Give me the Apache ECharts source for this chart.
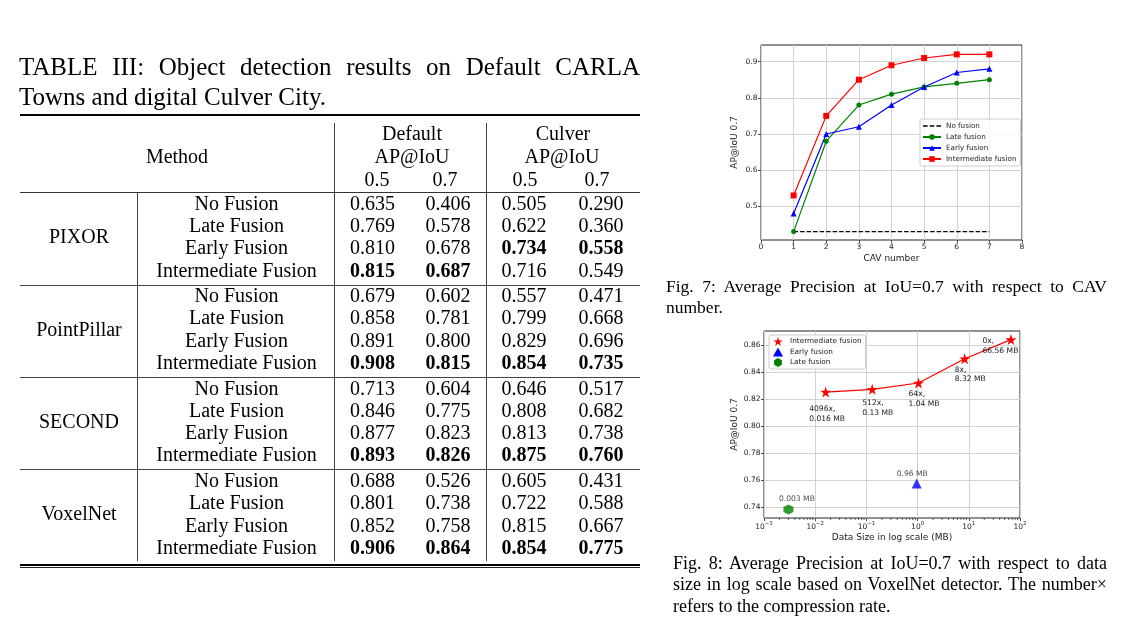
<!DOCTYPE html>
<html><head><meta charset="utf-8">
<script src="https://cdn.jsdelivr.net/npm/echarts@6/dist/echarts.min.js"></script>
<style>
html,body{margin:0;padding:0;background:#fff;width:1147px;height:641px;overflow:hidden;}
#chart{position:absolute;left:0;top:0;width:1147px;height:641px;}
.t{position:absolute;font-family:"Liberation Serif","Times New Roman",serif;color:#000;white-space:nowrap;line-height:1;transform:translate(-50%,-50%);}
.r{position:absolute;}
.cap{position:absolute;font-family:"Liberation Serif","Times New Roman",serif;color:#000;text-align:justify;}
.just{text-align:justify;text-align-last:justify;white-space:nowrap;}
</style></head><body>
<div id="chart"></div>
<div id="table"></div>
<div class="cap" id="cap7"></div>
<div class="cap" id="cap8"></div>
<script>
// ---------------- DATA ----------------
const tableCaption = ['TABLE III: Object detection results on Default CARLA', 'Towns and digital Culver City.'];
const headerMethod = 'Method';
const headerDatasets = ['Default', 'Culver'];
const headerMetric = 'AP@IoU';
const headerIoU = ['0.5', '0.7', '0.5', '0.7'];
const detectors = ['PIXOR', 'PointPillar', 'SECOND', 'VoxelNet'];
const fusionTypes = ['No Fusion', 'Late Fusion', 'Early Fusion', 'Intermediate Fusion'];
const defaultAP05 = [0.635,0.769,0.810,0.815, 0.679,0.858,0.891,0.908, 0.713,0.846,0.877,0.893, 0.688,0.801,0.852,0.906];
const defaultAP07 = [0.406,0.578,0.678,0.687, 0.602,0.781,0.800,0.815, 0.604,0.775,0.823,0.826, 0.526,0.738,0.758,0.864];
const culverAP05  = [0.505,0.622,0.734,0.716, 0.557,0.799,0.829,0.854, 0.646,0.808,0.813,0.875, 0.605,0.722,0.815,0.854];
const culverAP07  = [0.290,0.360,0.558,0.549, 0.471,0.668,0.696,0.735, 0.517,0.682,0.738,0.760, 0.431,0.588,0.667,0.775];

const fig7Caption = 'Fig. 7: Average Precision at IoU=0.7 with respect to CAV number.';
const fig8Caption = 'Fig. 8: Average Precision at IoU=0.7 with respect to data size in log scale based on VoxelNet detector. The number\u00d7 refers to the compression rate.';

// Fig 7
const cavNumbers     = [1, 2, 3, 4, 5, 6, 7];
const noFusionAP     = [0.43, 0.43, 0.43, 0.43, 0.43, 0.43, 0.43];
const lateFusionAP   = [0.43, 0.68, 0.78, 0.81, 0.83, 0.84, 0.85];
const earlyFusionAP  = [0.48, 0.70, 0.72, 0.78, 0.83, 0.87, 0.88];
const interFusionAP  = [0.53, 0.75, 0.85, 0.89, 0.91, 0.92, 0.92];
const fig7YTicks     = [0.5, 0.6, 0.7, 0.8, 0.9];
const fig7SeriesNames = ['No fusion', 'Late fusion', 'Early fusion', 'Intermediate fusion'];

// Fig 8
const interDataSize = [0.016, 0.13, 1.04, 8.32, 66.56];
const interAP       = [0.8253, 0.8273, 0.832, 0.850, 0.8642];
const interLabels   = ['4096x,\n0.016 MB', '512x,\n0.13 MB', '64x,\n1.04 MB', '8x,\n8.32 MB', '0x,\n66.56 MB'];
const earlyDataSize = [0.96];
const earlyAP       = [0.7574];
const earlyLabels   = ['0.96 MB'];
const lateDataSize  = [0.003];
const lateAP        = [0.7381];
const lateLabels    = ['0.003 MB'];
const fig8YTicks    = [0.74, 0.76, 0.78, 0.80, 0.82, 0.84, 0.86];
const fig8SeriesNames = ['Intermediate fusion', 'Early fusion', 'Late fusion'];

// ---------------- TABLE (HTML text) ----------------
const T = document.getElementById('table');
function txt(s, x, y, size, bold) {
  const d = document.createElement('div');
  d.className = 't';
  d.style.left = x + 'px'; d.style.top = y + 'px'; d.style.fontSize = size + 'px';
  if (bold) d.style.fontWeight = 'bold';
  d.textContent = s; T.appendChild(d);
}
function rect(x, y, w, h, color) {
  const d = document.createElement('div');
  d.className = 'r';
  d.style.left = x + 'px'; d.style.top = y + 'px'; d.style.width = w + 'px'; d.style.height = h + 'px';
  d.style.background = color; T.appendChild(d);
}
// caption
(function () {
  const c = document.createElement('div');
  c.className = 'cap';
  c.style.left = '19px'; c.style.top = '51.6px'; c.style.width = '621px';
  c.style.fontSize = '25px'; c.style.lineHeight = '30px';
  const l1 = document.createElement('div'); l1.className = 'just'; l1.textContent = tableCaption[0];
  const l2 = document.createElement('div'); l2.textContent = tableCaption[1];
  c.appendChild(l1); c.appendChild(l2); T.appendChild(c);
})();
const FS = 20;
const rowY = i => 202.7 + i * 22.3 + Math.floor(i / 4) * 3.2;
const numX = [372.5, 448, 524, 601];
const subX = [377, 445, 525, 597];
const groupX = 79, fusionX = 236.5;
// rules
rect(20, 114, 620, 2, '#000');
rect(20, 192.2, 620, 1, '#333');
for (let g = 1; g < 4; g++) rect(20, rowY(4 * g) - 10.5, 620, 1, '#444');
rect(20, 563.6, 620, 2, '#000');
rect(20, 567, 620, 1.4, '#222');
rect(137.2, 192.5, 1, 368, '#444');
rect(333.5, 123, 1, 437.5, '#444');
rect(486.2, 123, 1, 437.5, '#444');
// header
txt(headerMethod, 177, 156, FS);
txt(headerDatasets[0], 412, 133, FS); txt(headerMetric, 412, 156, FS);
txt(headerDatasets[1], 563, 133, FS); txt(headerMetric, 562, 156, FS);
headerIoU.forEach((s, k) => txt(s, subX[k], 178.5, FS));
// body
const cols = [defaultAP05, defaultAP07, culverAP05, culverAP07];
detectors.forEach((det, g) => {
  txt(det, groupX, (rowY(4 * g) + rowY(4 * g + 3)) / 2, FS);
  fusionTypes.forEach((f, j) => {
    const i = 4 * g + j;
    txt(f, fusionX, rowY(i), FS);
    cols.forEach((col, k) => {
      const grp = col.slice(4 * g, 4 * g + 4);
      const best = Math.max.apply(null, grp);
      txt(col[i].toFixed(3), numX[k], rowY(i), FS, col[i] === best);
    });
  });
});
// figure captions
(function () {
  const c7 = document.getElementById('cap7');
  c7.style.left = '666px'; c7.style.top = '276px'; c7.style.width = '441px';
  c7.style.fontSize = '17.5px'; c7.style.lineHeight = '21px';
  c7.textContent = fig7Caption;
  const c8 = document.getElementById('cap8');
  c8.style.left = '673px'; c8.style.top = '552.5px'; c8.style.width = '434px';
  c8.style.fontSize = '18px'; c8.style.lineHeight = '21.5px';
  c8.textContent = fig8Caption;
})();

// ---------------- CHARTS ----------------
const FONT = 'DejaVu Sans';
const AXC = '#222';
const GRIDC = '#d2d2d2';
const STAR = 'path://M50,0L61.2,34.6L97.6,34.5L68.1,55.9L79.4,90.5L50,69L20.6,90.5L31.9,55.9L2.4,34.5L38.8,34.6Z';
const HEX = 'path://M50,0L93.3,25L93.3,75L50,100L6.7,75L6.7,25Z';
const DASH = 'path://M0,0h4.6v1.4h-4.6z M6.6,0h4.6v1.4h-4.6z M13.2,0h4.6v1.4h-4.6z';
const fig7YMin = 0.4068, fig7YMax = 0.946;
const fig8YMin = 0.7318, fig8YMax = 0.8706;

const chart = echarts.init(document.getElementById('chart'), null, { renderer: 'canvas' });

const tick = { show: true, inside: false, length: 3, lineStyle: { color: AXC, width: 0.8 } };
const lbl = { color: AXC, fontSize: 7.5, fontFamily: FONT };
const split = { show: true, lineStyle: { color: GRIDC, width: 1 } };
const nameStyle = { color: AXC, fontSize: 9, fontFamily: FONT };

const interLabelOffsets = [[-16.5, 12.5], [-10, 9], [-10, 6.5], [-10, 6], [-28.5, -3]];
const earlyLabelOffset = [-20, -14.5];
const lateLabelOffset = [-9.5, -15];
const ptLabel = { show: true, position: 'inside', align: 'left', verticalAlign: 'top', color: AXC, fontSize: 7.6, fontFamily: FONT, lineHeight: 9.7 };

const supRich = {
  b: { fontSize: 7.5, fontFamily: FONT, color: AXC, lineHeight: 10, verticalAlign: 'bottom' },
  s: { fontSize: 5.4, fontFamily: FONT, color: AXC, lineHeight: 6, verticalAlign: 'top' }
};

const option = {
  backgroundColor: 'transparent',
  animation: false,
  grid: [
    { left: 761, top: 45, width: 261, height: 195, show: true, borderColor: AXC, borderWidth: 1, containLabel: false, outerBoundsMode: 'none' },
    { left: 764, top: 331, width: 256, height: 187, show: true, borderColor: AXC, borderWidth: 1, containLabel: false, outerBoundsMode: 'none' }
  ],
  xAxis: [
    { gridIndex: 0, type: 'value', min: 0, max: 8, interval: 1, axisLine: { show: false },
      axisTick: tick, axisLabel: Object.assign({ margin: 3.5 }, lbl), splitLine: split,
      name: 'CAV number', nameLocation: 'middle', nameGap: 14, nameTextStyle: nameStyle },
    { gridIndex: 1, type: 'log', logBase: 10, min: 0.001, max: 100, axisLine: { show: false },
      axisTick: tick, splitLine: split,
      axisLabel: { margin: 3.5, rich: supRich, formatter: v => '{b|10}{s|' + String(Math.round(Math.log10(v))).replace('-', '\u2212') + '}' },
      name: 'Data Size in log scale (MB)', nameLocation: 'middle', nameGap: 15, nameTextStyle: nameStyle }
  ],
  yAxis: [
    { gridIndex: 0, type: 'value', min: fig7YMin, max: fig7YMax, axisLine: { show: false },
      axisTick: Object.assign({ customValues: fig7YTicks }, tick),
      axisLabel: Object.assign({ customValues: fig7YTicks, margin: 3.5, formatter: v => v.toFixed(1) }, lbl),
      splitLine: split,
      name: 'AP@IoU 0.7', nameLocation: 'middle', nameGap: 22, nameRotate: 90, nameTextStyle: nameStyle },
    { gridIndex: 1, type: 'value', min: fig8YMin, max: fig8YMax, axisLine: { show: false },
      axisTick: Object.assign({ customValues: fig8YTicks }, tick),
      axisLabel: Object.assign({ customValues: fig8YTicks, margin: 3.5, formatter: v => v.toFixed(2) }, lbl),
      splitLine: split,
      name: 'AP@IoU 0.7', nameLocation: 'middle', nameGap: 24.5, nameRotate: 90, nameTextStyle: nameStyle }
  ],
  legend: [
    { left: 920, top: 119, orient: 'vertical', itemWidth: 18, itemHeight: 7, itemGap: 4,
      padding: [3.5, 4, 3.5, 2], backgroundColor: 'rgba(255,255,255,0.8)', borderColor: '#cccccc', borderWidth: 1, borderRadius: 2,
      textStyle: { fontSize: 7.2, fontFamily: FONT, color: AXC },
      data: [{ name: fig7SeriesNames[0], icon: DASH }, fig7SeriesNames[1], fig7SeriesNames[2], fig7SeriesNames[3]] },
    { left: 769, top: 335, orient: 'vertical', itemWidth: 10, itemHeight: 9, itemGap: 1.5,
      padding: [2, 4, 2, 4], backgroundColor: 'rgba(255,255,255,0.8)', borderColor: '#cccccc', borderWidth: 1, borderRadius: 2,
      textStyle: { fontSize: 7.3, fontFamily: FONT, color: AXC, padding: [0, 0, 0, 2] },
      data: [{ name: fig8SeriesNames[0], icon: STAR }, { name: fig8SeriesNames[1], icon: 'triangle' }, { name: fig8SeriesNames[2], icon: HEX }] }
  ],
  series: [
    { name: fig7SeriesNames[0], type: 'line', xAxisIndex: 0, yAxisIndex: 0, symbol: 'none', color: '#000',
      lineStyle: { color: '#000', width: 1.3, type: [4.5, 2] }, data: cavNumbers.map((x, i) => [x, noFusionAP[i]]) },
    { name: fig7SeriesNames[1], type: 'line', xAxisIndex: 0, yAxisIndex: 0, symbol: 'circle', symbolSize: 5, color: '#008000',
      lineStyle: { width: 1.2 }, data: cavNumbers.map((x, i) => [x, lateFusionAP[i]]) },
    { name: fig7SeriesNames[2], type: 'line', xAxisIndex: 0, yAxisIndex: 0, symbol: 'triangle', symbolSize: 6, color: '#0000ff',
      lineStyle: { width: 1.2 }, data: cavNumbers.map((x, i) => [x, earlyFusionAP[i]]) },
    { name: fig7SeriesNames[3], type: 'line', xAxisIndex: 0, yAxisIndex: 0, symbol: 'rect', symbolSize: 6, color: '#ff0000',
      lineStyle: { width: 1.2 }, data: cavNumbers.map((x, i) => [x, interFusionAP[i]]) },

    { name: fig8SeriesNames[0], type: 'line', xAxisIndex: 1, yAxisIndex: 1, symbol: STAR, symbolSize: 11, color: '#ff0000',
      lineStyle: { width: 1.2 }, label: ptLabel,
      data: interDataSize.map((x, i) => ({ value: [x, interAP[i]], label: { formatter: interLabels[i], offset: interLabelOffsets[i] } })) },
    { name: fig8SeriesNames[1], type: 'scatter', xAxisIndex: 1, yAxisIndex: 1, symbol: 'triangle', symbolSize: 10, color: '#0000ff',
      label: ptLabel,
      data: earlyDataSize.map((x, i) => ({ value: [x, earlyAP[i]], label: { formatter: earlyLabels[i], offset: earlyLabelOffset } })) },
    { name: fig8SeriesNames[2], type: 'scatter', xAxisIndex: 1, yAxisIndex: 1, symbol: HEX, symbolSize: 10, color: '#008000',
      label: ptLabel,
      data: lateDataSize.map((x, i) => ({ value: [x, lateAP[i]], label: { formatter: lateLabels[i], offset: lateLabelOffset } })) },
    { name: 'minorTicks', type: 'custom', xAxisIndex: 1, yAxisIndex: 1, silent: true, clip: false,
      data: [[1, fig8YMin]],
      renderItem: function (params, api) {
        const children = [];
        const y0 = api.coord([1, fig8YMin])[1];
        for (let k = -3; k < 2; k++) {
          for (let m = 2; m < 10; m++) {
            const x = api.coord([m * Math.pow(10, k), fig8YMin])[0];
            children.push({ type: 'line', shape: { x1: x, y1: y0, x2: x, y2: y0 + 2 }, style: { stroke: AXC, lineWidth: 0.7 } });
          }
        }
        return { type: 'group', children: children };
      } }
  ]
};
chart.setOption(option);
</script>
</body></html>
